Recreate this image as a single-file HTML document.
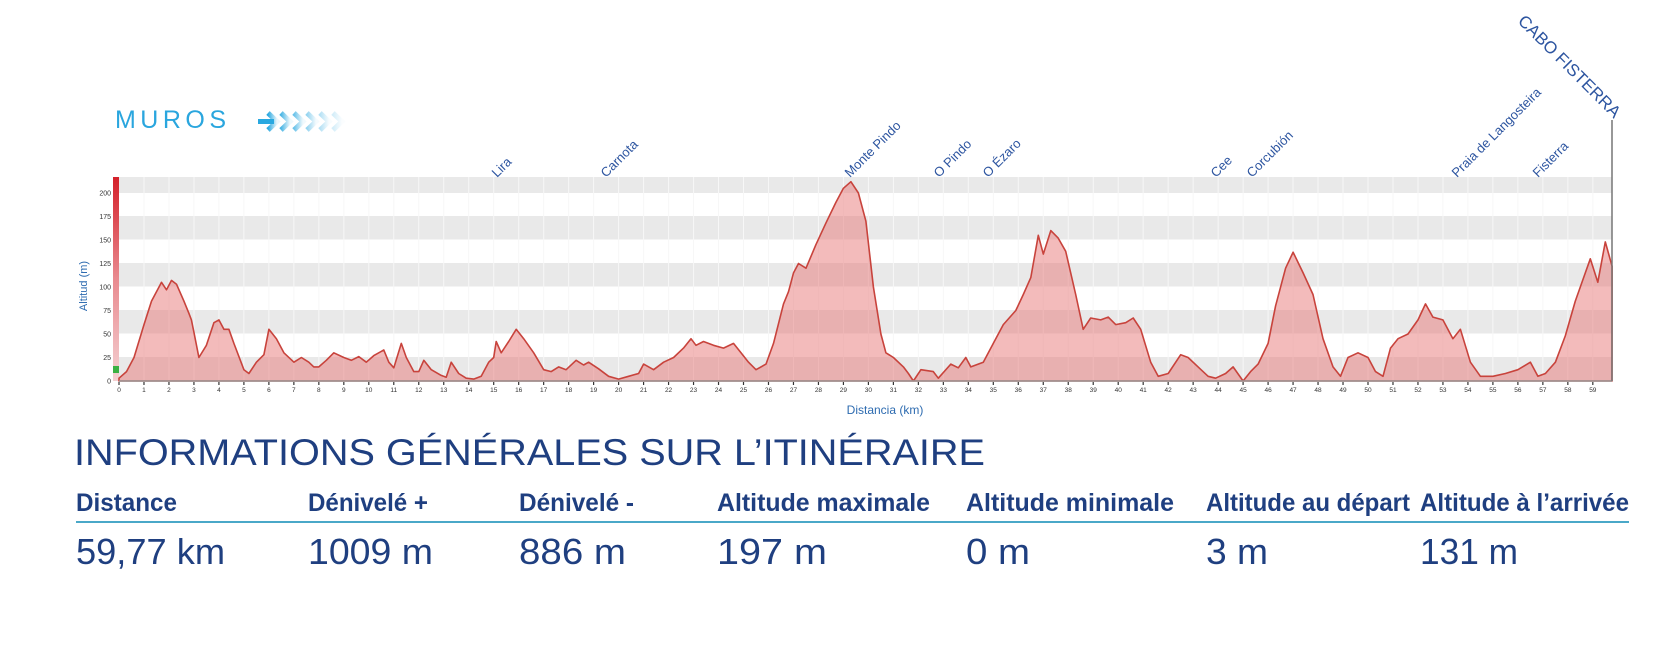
<!DOCTYPE html>
<html><head><meta charset="utf-8"><style>
body{margin:0;background:#fff;width:1664px;height:640px;overflow:hidden;font-family:"Liberation Sans",sans-serif}
</style></head><body>
<svg width="1664" height="640" viewBox="0 0 1664 640" xmlns="http://www.w3.org/2000/svg">
<defs>
<linearGradient id="rb" x1="0" y1="0" x2="0" y2="1"><stop offset="0" stop-color="#d4202a"/><stop offset="0.5" stop-color="#e98a8f"/><stop offset="1" stop-color="#f4d0d2"/></linearGradient>
<linearGradient id="vl" x1="0" y1="0" x2="0" y2="1"><stop offset="0" stop-color="#222"/><stop offset="0.8" stop-color="#444"/><stop offset="1" stop-color="#bbb" stop-opacity="0.2"/></linearGradient>
<linearGradient id="ar" x1="0" y1="0" x2="1" y2="0"><stop offset="0" stop-color="#29a8e0"/><stop offset="1" stop-color="#29a8e0" stop-opacity="0.1"/></linearGradient>
</defs>
<text x="115" y="128" font-size="25" fill="#2aa6de" textLength="111" lengthAdjust="spacing">MUROS</text>
<rect x="258" y="119" width="16" height="5" fill="#29a8e0"/>
<g fill="none" stroke="url(#ar)" stroke-width="5">
<path d="M268 113 L277 121.5 L268 130"/><path d="M281 113 L290 121.5 L281 130" opacity="0.85"/><path d="M294 113 L303 121.5 L294 130" opacity="0.7"/><path d="M307 113 L316 121.5 L307 130" opacity="0.5"/><path d="M320 113 L329 121.5 L320 130" opacity="0.35"/><path d="M333 113 L342 121.5 L333 130" opacity="0.2"/>
</g>
<g fill="#e9e9e9">
<rect x="119" y="177" width="1493" height="16"/>
<rect x="119" y="216" width="1493" height="23.5"/>
<rect x="119" y="263" width="1493" height="23.5"/>
<rect x="119" y="310" width="1493" height="23.5"/>
<rect x="119" y="357" width="1493" height="24"/>
</g>
<g stroke="#f7f7f7" stroke-width="1" id="vg"></g>
<rect x="113" y="177" width="6" height="204" fill="url(#rb)"/>
<rect x="113" y="366" width="6" height="7" fill="#3cb043"/>
<path id="prof" fill="rgba(232,120,120,0.5)" stroke="#c8433c" stroke-width="1.6" stroke-linejoin="round"/>
<line x1="119" y1="381" x2="1612" y2="381" stroke="#999" stroke-width="1.5"/>
<line x1="1612" y1="120" x2="1612" y2="381" stroke="#777" stroke-width="1.5"/>
<g stroke="url(#vl)" stroke-width="2.2">
<line x1="496" y1="185" x2="496" y2="350"/><line x1="605" y1="185" x2="605" y2="350"/><line x1="849" y1="185" x2="849" y2="350"/><line x1="938" y1="185" x2="938" y2="350"/><line x1="987" y1="185" x2="987" y2="350"/><line x1="1215" y1="185" x2="1215" y2="350"/><line x1="1251" y1="185" x2="1251" y2="350"/><line x1="1456" y1="185" x2="1456" y2="350"/><line x1="1537" y1="185" x2="1537" y2="350"/>
</g>
<g font-size="13" fill="#2d55a0">
<text transform="translate(497,178) rotate(-45)">Lira</text>
<text transform="translate(606,178) rotate(-45)">Carnota</text>
<text transform="translate(850,178) rotate(-45)">Monte Pindo</text>
<text transform="translate(939,178) rotate(-45)">O Pindo</text>
<text transform="translate(988,178) rotate(-45)">O Ézaro</text>
<text transform="translate(1216,178) rotate(-45)">Cee</text>
<text transform="translate(1252,178) rotate(-45)">Corcubión</text>
<text transform="translate(1457,178) rotate(-45)">Praia de Langosteira</text>
<text transform="translate(1538,178) rotate(-45)">Fisterra</text>
</g>
<text transform="translate(1517,22) rotate(45)" font-size="17" fill="#2d55a0">CABO FISTERRA</text>
<g font-size="7" fill="#333" text-anchor="end" id="yl"></g>
<text transform="translate(87,286) rotate(-90)" font-size="11" fill="#2d6bb0" text-anchor="middle">Altitud (m)</text>
<g font-size="6.5" fill="#333" text-anchor="middle" id="xl"></g>
<text x="885" y="414" font-size="12" fill="#2d6bb0" text-anchor="middle">Distancia (km)</text>
<text x="74" y="465" font-size="37" fill="#1f3f80" textLength="911" lengthAdjust="spacingAndGlyphs">INFORMATIONS GÉNÉRALES SUR L’ITINÉRAIRE</text>
<g font-size="25" font-weight="bold" fill="#1f3f80" lengthAdjust="spacingAndGlyphs">
<text x="76" y="511" textLength="101" lengthAdjust="spacingAndGlyphs">Distance</text>
<text x="308" y="511" textLength="120" lengthAdjust="spacingAndGlyphs">Dénivelé +</text>
<text x="519" y="511" textLength="115" lengthAdjust="spacingAndGlyphs">Dénivelé -</text>
<text x="717" y="511" textLength="213" lengthAdjust="spacingAndGlyphs">Altitude maximale</text>
<text x="966" y="511" textLength="208" lengthAdjust="spacingAndGlyphs">Altitude minimale</text>
<text x="1206" y="511" textLength="204" lengthAdjust="spacingAndGlyphs">Altitude au départ</text>
<text x="1420" y="511" textLength="209" lengthAdjust="spacingAndGlyphs">Altitude à l’arrivée</text>
</g>
<line x1="76" y1="522" x2="1629" y2="522" stroke="#4aa8c8" stroke-width="2"/>
<g font-size="36" fill="#1f3f80">
<text x="76" y="564" textLength="149" lengthAdjust="spacingAndGlyphs">59,77 km</text>
<text x="308" y="564" textLength="125" lengthAdjust="spacingAndGlyphs">1009 m</text>
<text x="519" y="564" textLength="107" lengthAdjust="spacingAndGlyphs">886 m</text>
<text x="717" y="564" textLength="110" lengthAdjust="spacingAndGlyphs">197 m</text>
<text x="966" y="564" textLength="64" lengthAdjust="spacingAndGlyphs">0 m</text>
<text x="1206" y="564" textLength="62" lengthAdjust="spacingAndGlyphs">3 m</text>
<text x="1420" y="564" textLength="98" lengthAdjust="spacingAndGlyphs">131 m</text>
</g>
</svg>
<script>
var d=[0,3,.3,10,.6,25,1,60,1.3,85,1.6,100,1.7,105,1.9,97,2.1,107,2.3,103,2.6,85,2.8,72,2.9,65,3,52,3.2,25,3.5,38,3.8,62,4,65,4.2,55,4.4,55,4.6,40,5,12,5.2,8,5.5,20,5.8,28,6,55,6.3,45,6.6,30,7,20,7.3,25,7.6,20,7.8,15,8,15,8.3,22,8.6,30,9,25,9.3,22,9.6,26,9.9,20,10.2,27,10.6,33,10.8,20,11,14,11.3,40,11.5,25,11.8,10,12,10,12.2,22,12.5,12,12.9,6,13.1,4,13.3,20,13.6,8,13.9,3,14.2,2,14.5,5,14.8,20,15,25,15.1,42,15.3,30,15.6,42,15.9,55,16.2,45,16.6,30,17,12,17.3,10,17.6,15,17.9,12,18.3,22,18.6,17,18.8,20,19.2,13,19.6,5,20,2,20.4,5,20.8,8,21,18,21.4,12,21.8,20,22.2,25,22.6,35,22.9,45,23.1,38,23.4,42,23.8,38,24.2,35,24.6,40,24.9,30,25.2,20,25.5,12,25.9,18,26.2,40,26.6,82,26.8,95,27,115,27.2,125,27.5,120,27.9,145,28.3,168,28.7,190,29,205,29.3,212,29.6,200,29.9,170,30.2,100,30.5,50,30.7,30,31,25,31.4,15,31.6,8,31.8,0,32.1,12,32.6,10,32.8,3,33.3,18,33.6,14,33.9,25,34.1,15,34.6,20,35,40,35.4,60,35.9,75,36.2,92,36.5,110,36.8,155,37,135,37.3,160,37.6,152,37.9,138,38.3,92,38.6,55,38.9,67,39.3,65,39.6,68,39.9,60,40.3,62,40.6,67,40.9,55,41.3,20,41.6,5,42,8,42.5,28,42.8,25,43.2,15,43.6,5,43.9,3,44.3,8,44.6,15,45,0,45.3,10,45.6,18,46,40,46.3,80,46.7,120,47,137,47.4,115,47.8,92,48.2,45,48.6,15,48.9,5,49.2,25,49.6,30,50,25,50.3,10,50.6,5,50.9,35,51.2,45,51.6,50,52,65,52.3,82,52.6,68,53,65,53.4,45,53.7,55,54.1,20,54.5,5,55,5,55.5,8,56,12,56.5,20,56.8,5,57.1,8,57.5,20,57.9,48,58.3,85,58.7,115,58.9,130,59.2,105,59.5,148,59.77,122];
var X=k=>119+k*24.98,Y=m=>381-m*0.94,p="M119 381";
for(var i=0;i<d.length;i+=2)p+=" L"+X(d[i]).toFixed(1)+" "+Y(d[i+1]).toFixed(1);
p+=" L1612 381 Z";document.getElementById("prof").setAttribute("d",p);
var ns="http://www.w3.org/2000/svg",vg=document.getElementById("vg"),xl=document.getElementById("xl"),yl=document.getElementById("yl");
for(var k=1;k<60;k++){var l=document.createElementNS(ns,"line");l.setAttribute("x1",X(k));l.setAttribute("x2",X(k));l.setAttribute("y1",177);l.setAttribute("y2",381);vg.appendChild(l);}
for(var k=0;k<60;k++){var t=document.createElementNS(ns,"text");t.setAttribute("x",X(k));t.setAttribute("y",392);t.textContent=k;xl.appendChild(t);
var r=document.createElementNS(ns,"rect");r.setAttribute("x",X(k)-0.6);r.setAttribute("y",382);r.setAttribute("width",1.2);r.setAttribute("height",3);r.setAttribute("fill","#333");xl.appendChild(r);}
[0,25,50,75,100,125,150,175,200].forEach(function(m){var t=document.createElementNS(ns,"text");t.setAttribute("x",111);t.setAttribute("y",Y(m)+2.5);t.textContent=m;yl.appendChild(t);});
</script>
</body></html>
